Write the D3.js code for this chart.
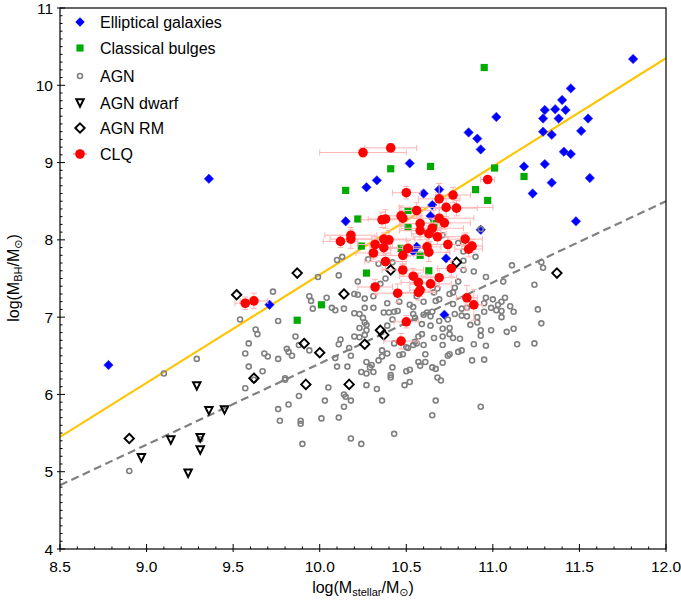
<!DOCTYPE html>
<html>
<head>
<meta charset="utf-8">
<script src="https://cdn.jsdelivr.net/npm/d3@7"></script>
<style>
  body { margin: 0; background: #ffffff; }
  svg text { font-family: "Liberation Sans", "DejaVu Sans", sans-serif; fill: #000; }
</style>
</head>
<body>
<svg id="chart" width="681" height="600"></svg>
<script>
// ---- data: log stellar mass vs log black-hole mass ----
const xTicks = [8.5, 9.0, 9.5, 10.0, 10.5, 11.0, 11.5, 12.0];
const yTicks = [4, 5, 6, 7, 8, 9, 10, 11];

const legendLabels = ["Elliptical galaxies", "Classical bulges", "AGN", "AGN dwarf", "AGN RM", "CLQ"];

// scaling relations: log MBH = a + b (log M* - 11)
const earlyFit = { a: 8.95, b: 1.40 };
const agnFit = { a: 7.45, b: 1.05 };

const ellipticals = [
  [9.36, 8.79], [8.78, 6.38], [9.71, 7.16], [10.15, 8.24], [10.27, 8.68], [10.33, 8.77],
  [10.52, 8.99], [10.60, 8.60], [10.65, 8.45], [10.64, 8.31], [10.69, 8.65], [10.56, 7.91],
  [10.54, 7.85], [10.73, 7.76], [10.72, 7.03], [10.86, 9.39], [10.91, 9.31], [10.93, 9.17],
  [10.93, 8.13], [11.02, 9.59], [11.81, 10.34], [11.45, 9.96], [11.40, 9.81], [11.30, 9.68],
  [11.36, 9.69], [11.42, 9.68], [11.29, 9.57], [11.38, 9.57], [11.55, 9.57], [11.29, 9.40],
  [11.34, 9.36], [11.51, 9.41], [11.41, 9.14], [11.45, 9.11], [11.18, 8.95], [11.30, 8.98],
  [11.34, 8.74], [11.56, 8.80], [11.23, 8.60], [11.48, 8.24]
];

const bulges = [
  [10.95, 10.23], [11.01, 8.93], [11.18, 8.82], [10.97, 8.51], [10.64, 8.95], [10.90, 8.65],
  [10.51, 8.38], [10.51, 8.16], [10.58, 7.80], [10.63, 7.60], [10.66, 8.21], [10.41, 8.92],
  [10.15, 8.64], [10.22, 8.27], [10.24, 7.92], [10.27, 7.57], [10.01, 7.16], [9.87, 6.96],
  [10.47, 7.89]
];

const agn = [
  [10.10, 7.74], [10.13, 7.78], [10.28, 7.75], [9.99, 7.52], [10.11, 7.54], [10.22, 7.46],
  [9.73, 7.33], [9.94, 7.27], [10.04, 7.25], [10.20, 7.30], [10.22, 7.29], [10.26, 7.24],
  [10.31, 7.27], [9.95, 7.21], [9.96, 7.11], [10.07, 7.12], [10.09, 7.09], [10.14, 7.11],
  [10.31, 7.12], [10.20, 7.05], [10.23, 7.04], [10.25, 6.99], [9.54, 6.97], [9.76, 6.95],
  [9.63, 6.84], [9.64, 6.78], [10.23, 6.86], [10.27, 6.90], [10.27, 6.83], [10.26, 6.77],
  [10.20, 6.75], [10.23, 6.74], [9.86, 6.75], [10.12, 6.71], [10.11, 6.65], [9.59, 6.66],
  [9.81, 6.59], [9.88, 6.64], [9.94, 6.57], [10.17, 6.60], [9.57, 6.53], [9.68, 6.53],
  [9.84, 6.50], [9.82, 6.55], [9.70, 6.49], [9.76, 6.46], [10.09, 6.47], [10.18, 6.50],
  [10.16, 6.36], [10.10, 6.36], [9.59, 6.36], [9.67, 6.30], [9.80, 6.19], [9.80, 6.21],
  [9.57, 6.08], [9.88, 5.98], [10.05, 6.09], [10.14, 6.00], [10.15, 5.97], [9.82, 5.87],
  [9.76, 5.81], [10.03, 5.92], [10.14, 5.84], [10.18, 5.92], [9.77, 5.66], [9.89, 5.66],
  [9.89, 5.62], [10.01, 5.69], [10.11, 5.70], [9.90, 5.36], [10.18, 5.43], [10.24, 5.36],
  [10.27, 6.42], [10.29, 6.35], [10.30, 6.38], [10.24, 6.29], [10.27, 6.27], [10.31, 6.29],
  [10.27, 6.12], [10.33, 6.07], [10.36, 5.92], [10.39, 6.53], [10.36, 6.49], [10.46, 6.51],
  [10.48, 6.52], [10.61, 6.52], [10.74, 6.50], [10.75, 6.52], [10.80, 6.55], [10.42, 6.35],
  [10.41, 6.25], [10.41, 6.22], [10.50, 6.30], [10.52, 6.32], [10.57, 6.42], [10.58, 6.37],
  [10.61, 6.42], [10.65, 6.35], [10.67, 6.33], [10.71, 6.41], [10.68, 6.22], [10.70, 6.18],
  [10.49, 6.12], [10.52, 6.16], [10.88, 6.44], [10.95, 6.45], [10.67, 5.92], [10.93, 5.84],
  [10.65, 5.73], [10.43, 5.49], [10.51, 6.60], [10.54, 6.64], [10.56, 6.66], [10.57, 6.75],
  [10.43, 6.66], [10.43, 7.07], [10.40, 7.06], [10.37, 7.06], [10.26, 7.12], [10.46, 7.20],
  [10.52, 7.16], [10.54, 7.13], [10.54, 7.04], [10.35, 7.43], [10.26, 6.93], [10.34, 6.44],
  [10.36, 6.57], [10.83, 7.61], [10.90, 7.78], [10.89, 7.59], [10.96, 7.52], [11.11, 7.67],
  [11.24, 7.42], [11.06, 7.46], [10.38, 7.50], [10.80, 7.46], [10.78, 7.38], [10.77, 7.32],
  [10.75, 7.30], [10.68, 7.37], [10.66, 7.32], [10.69, 7.23], [10.67, 7.21], [10.60, 7.20],
  [10.56, 7.27], [10.39, 7.18], [10.77, 7.17], [10.82, 7.11], [10.85, 7.12], [10.78, 7.04],
  [10.82, 7.02], [10.85, 7.01], [10.95, 7.18], [10.96, 7.25], [11.00, 7.23], [11.03, 7.16],
  [11.05, 7.20], [11.07, 7.25], [11.10, 7.14], [10.99, 7.12], [11.02, 7.09], [10.95, 7.07],
  [11.05, 7.08], [11.05, 7.00], [11.12, 7.07], [11.26, 7.10], [10.91, 7.00], [10.91, 6.93],
  [10.87, 6.90], [10.93, 6.83], [10.93, 6.76], [10.99, 6.83], [11.08, 6.81], [11.12, 6.85],
  [10.96, 6.63], [10.89, 6.65], [11.14, 6.65], [11.24, 6.66], [10.81, 6.72], [10.82, 6.57],
  [10.75, 6.86], [10.75, 6.78], [10.71, 6.85], [10.71, 6.75], [10.66, 6.73], [10.64, 6.89],
  [10.59, 6.78], [10.60, 6.64], [10.50, 6.61], [10.39, 6.89], [10.42, 6.97], [10.45, 7.08],
  [10.55, 6.99], [10.60, 7.03], [10.62, 7.06], [10.65, 7.07], [10.64, 7.01], [11.28, 7.71],
  [11.29, 7.64], [11.28, 6.92], [10.77, 6.73], [10.71, 6.64], [10.69, 6.95], [10.74, 6.97],
  [10.59, 6.91], [10.55, 6.68], [10.34, 7.69], [10.38, 7.70], [10.42, 7.71], [9.29, 6.46],
  [9.10, 6.27], [9.31, 5.42], [8.90, 5.01], [9.62, 6.19], [10.83, 7.73], [10.83, 7.85],
  [10.80, 7.96], [10.71, 8.06], [10.93, 8.14]
];

const agnDwarf = [
  [9.29, 6.11], [9.36, 5.79], [9.45, 5.80], [9.14, 5.41], [9.31, 5.44], [9.31, 5.28],
  [8.97, 5.18], [9.24, 4.98]
];

const agnRM = [
  [9.52, 7.29], [9.87, 7.57], [10.14, 7.30], [10.41, 7.61], [10.79, 7.71], [11.37, 7.57],
  [8.90, 5.43], [9.62, 6.21], [9.91, 6.66], [10.00, 6.54], [9.92, 6.13], [10.17, 6.13],
  [10.26, 6.65], [10.35, 6.83], [10.37, 6.77]
];

// CLQ: [log M*, log MBH]
const clq = [
  [9.57, 7.18], [9.62, 7.21], [10.25, 9.13], [10.41, 9.19], [10.50, 8.61], [10.97, 8.78],
  [10.36, 8.26], [10.38, 8.27], [10.47, 8.31], [10.56, 8.38], [10.12, 7.98], [10.18, 8.06],
  [10.18, 8.01], [10.32, 7.94], [10.37, 8.01], [10.40, 8.00], [10.37, 7.90], [10.31, 7.83],
  [10.38, 7.72], [10.48, 7.80], [10.51, 7.89], [10.48, 7.61], [10.54, 7.53], [10.57, 7.45],
  [10.32, 7.39], [10.45, 7.31], [10.57, 7.32], [10.58, 7.35], [10.69, 8.53], [10.77, 8.58],
  [10.73, 8.42], [10.79, 8.41], [10.69, 8.28], [10.72, 8.22], [10.58, 8.21], [10.65, 8.15],
  [10.63, 8.08], [10.58, 8.12], [10.68, 8.04], [10.84, 8.01], [10.62, 7.91], [10.63, 7.84],
  [10.74, 7.94], [10.88, 7.92], [10.86, 7.88], [10.76, 7.63], [10.69, 7.51], [10.64, 7.43],
  [10.85, 7.25], [10.89, 7.16], [10.50, 6.94], [10.47, 6.69], [10.48, 8.28]
];
// CLQ uncertainties (dex)
const clqXerr = [
  0.06, 0.08, 0.25, 0.15, 0.08, 0.04, 0.12, 0.10, 0.12, 0.10, 0.10, 0.15,
  0.12, 0.10, 0.18, 0.10, 0.08, 0.10, 0.12, 0.15, 0.10, 0.12, 0.08, 0.10,
  0.10, 0.12, 0.10, 0.06, 0.12, 0.10, 0.27, 0.12, 0.20, 0.15, 0.12, 0.18,
  0.10, 0.12, 0.14, 0.10, 0.08, 0.12, 0.10, 0.06, 0.08, 0.08, 0.10, 0.12,
  0.06, 0.05, 0.07, 0.10, 0.10
];
const clqYerr = [
  0.08, 0.10, 0.06, 0.05, 0.08, 0.04, 0.10, 0.12, 0.13, 0.10, 0.08, 0.10,
  0.12, 0.10, 0.08, 0.12, 0.10, 0.08, 0.10, 0.12, 0.10, 0.08, 0.10, 0.12,
  0.10, 0.12, 0.10, 0.08, 0.20, 0.10, 0.12, 0.10, 0.12, 0.08, 0.10, 0.12,
  0.10, 0.12, 0.10, 0.08, 0.10, 0.12, 0.10, 0.08, 0.10, 0.10, 0.12, 0.10,
  0.16, 0.20, 0.08, 0.10, 0.10
];

// ---- layout ----
const svg = d3.select("#chart");
const plot = { left: 60, right: 666, top: 8, bottom: 549 };

const x = d3.scaleLinear().domain([8.5, 12.0]).range([plot.left, plot.right]);
const y = d3.scaleLinear().domain([4, 11]).range([plot.bottom, plot.top]);

svg.append("defs").append("clipPath").attr("id", "plotClip")
  .append("rect")
  .attr("x", plot.left).attr("y", plot.top)
  .attr("width", plot.right - plot.left).attr("height", plot.bottom - plot.top);

const layer = svg.append("g").attr("clip-path", "url(#plotClip)");

// ---- scaling relations ----
const fitLine = f => d3.line()
  .x(d => x(d))
  .y(d => y(f.a + f.b * (d - 11)));
const span = x.domain();

layer.append("path")
  .attr("d", fitLine(agnFit)(span))
  .attr("fill", "none")
  .attr("stroke", "#808080")
  .attr("stroke-width", 2.2)
  .attr("stroke-dasharray", "8,4.5");

layer.append("path")
  .attr("d", fitLine(earlyFit)(span))
  .attr("fill", "none")
  .attr("stroke", "#ffc400")
  .attr("stroke-width", 2.2);

// ---- marker shapes ----
const diamond = r => `M0,${-r}L${r},0L0,${r}L${-r},0Z`;
const square = s => `M${-s},${-s}H${s}V${s}H${-s}Z`;
const triDown = r => `M${-r},${-r}L${r},${-r}L0,${r}Z`;

const at = d => `translate(${x(d[0])},${y(d[1])})`;

// elliptical galaxies
layer.append("g").selectAll("path").data(ellipticals).join("path")
  .attr("transform", at)
  .attr("d", diamond(4.7))
  .attr("fill", "#0000ff")
  .attr("stroke", "#2a2aff")
  .attr("stroke-width", 0.6);

// classical bulges
layer.append("g").selectAll("path").data(bulges).join("path")
  .attr("transform", at)
  .attr("d", square(3.6))
  .attr("fill", "#00aa00");

// AGN
layer.append("g").selectAll("circle").data(agn).join("circle")
  .attr("cx", d => x(d[0]))
  .attr("cy", d => y(d[1]))
  .attr("r", 2.5)
  .attr("fill", "none")
  .attr("stroke", "#808080")
  .attr("stroke-width", 1.6);

// AGN dwarf
layer.append("g").selectAll("path").data(agnDwarf).join("path")
  .attr("transform", at)
  .attr("d", triDown(3.7))
  .attr("fill", "none")
  .attr("stroke", "#000")
  .attr("stroke-width", 2)
  .attr("stroke-linejoin", "miter");

// AGN reverberation mapped
layer.append("g").selectAll("path").data(agnRM).join("path")
  .attr("transform", at)
  .attr("d", diamond(4.7))
  .attr("fill", "none")
  .attr("stroke", "#000")
  .attr("stroke-width", 1.9);

// CLQ error bars
const errColor = "#ffb4b4";
const cap = 3;
const eb = layer.append("g").attr("stroke", errColor).attr("stroke-width", 1).attr("fill", "none");
clq.forEach((d, i) => {
  const cx = x(d[0]), cy = y(d[1]);
  const x0 = x(d[0] - clqXerr[i]), x1 = x(d[0] + clqXerr[i]);
  const y0 = y(d[1] - clqYerr[i]), y1 = y(d[1] + clqYerr[i]);
  const p = d3.path();
  p.moveTo(x0, cy); p.lineTo(x1, cy);
  p.moveTo(x0, cy - cap); p.lineTo(x0, cy + cap);
  p.moveTo(x1, cy - cap); p.lineTo(x1, cy + cap);
  p.moveTo(cx, y0); p.lineTo(cx, y1);
  p.moveTo(cx - cap, y0); p.lineTo(cx + cap, y0);
  p.moveTo(cx - cap, y1); p.lineTo(cx + cap, y1);
  eb.append("path").attr("d", p.toString());
});

// CLQ points
layer.append("g").selectAll("circle").data(clq).join("circle")
  .attr("cx", d => x(d[0]))
  .attr("cy", d => y(d[1]))
  .attr("r", 4.8)
  .attr("fill", "#ff0000");

// ---- axes ----
const minorX = d3.range(85, 121).map(v => v / 10).filter(v => !xTicks.some(t => Math.abs(t - v) < 1e-6));
const minorY = d3.range(40, 111).map(v => v / 10).filter(v => !yTicks.some(t => Math.abs(t - v) < 1e-6));

// frame
svg.append("rect")
  .attr("x", plot.left).attr("y", plot.top)
  .attr("width", plot.right - plot.left).attr("height", plot.bottom - plot.top)
  .attr("fill", "none").attr("stroke", "#000").attr("stroke-width", 1.2);

const ticks = svg.append("g").attr("stroke", "#000").attr("stroke-width", 1);
xTicks.forEach(v => ticks.append("line")
  .attr("x1", x(v)).attr("x2", x(v)).attr("y1", plot.bottom + 3).attr("y2", plot.bottom - 5));
minorX.forEach(v => ticks.append("line")
  .attr("x1", x(v)).attr("x2", x(v)).attr("y1", plot.bottom).attr("y2", plot.bottom - 2.5));
yTicks.forEach(v => ticks.append("line")
  .attr("y1", y(v)).attr("y2", y(v)).attr("x1", plot.left - 3).attr("x2", plot.left + 5));
minorY.forEach(v => ticks.append("line")
  .attr("y1", y(v)).attr("y2", y(v)).attr("x1", plot.left).attr("x2", plot.left + 2.5));

svg.append("g").selectAll("text").data(xTicks).join("text")
  .attr("x", d => x(d))
  .attr("y", plot.bottom + 23)
  .attr("text-anchor", "middle")
  .attr("font-size", 15.5)
  .text(d => d3.format(".1f")(d));

svg.append("g").selectAll("text").data(yTicks).join("text")
  .attr("x", plot.left - 7)
  .attr("y", d => y(d) + 5.5)
  .attr("text-anchor", "end")
  .attr("font-size", 15.5)
  .text(d => d);

// axis titles
const xTitle = svg.append("text")
  .attr("x", 363).attr("y", 593)
  .attr("text-anchor", "middle")
  .attr("font-size", 16);
xTitle.append("tspan").text("log(M");
xTitle.append("tspan").attr("font-size", 11).attr("dy", 3).text("stellar");
xTitle.append("tspan").attr("dy", -3).text("/M");
xTitle.append("tspan").attr("font-size", 11).attr("dy", 3).text("⊙");
xTitle.append("tspan").attr("dy", -3).text(")");

const yTitle = svg.append("text")
  .attr("transform", "translate(19,278) rotate(-90)")
  .attr("text-anchor", "middle")
  .attr("font-size", 16);
yTitle.append("tspan").text("log(M");
yTitle.append("tspan").attr("font-size", 11).attr("dy", 3).text("BH");
yTitle.append("tspan").attr("dy", -3).text("/M");
yTitle.append("tspan").attr("font-size", 11).attr("dy", 3).text("⊙");
yTitle.append("tspan").attr("dy", -3).text(")");

// ---- legend ----
const legend = svg.append("g");
const rowY = [22, 48, 76, 103, 128, 154];
const mx = 80;
legendLabels.forEach((lab, i) => {
  legend.append("text")
    .attr("x", 100).attr("y", rowY[i] + 5.5)
    .attr("font-size", 16)
    .text(lab);
});
legend.append("path").attr("transform", `translate(${mx},${rowY[0]})`)
  .attr("d", diamond(4.7)).attr("fill", "#0000ff");
legend.append("path").attr("transform", `translate(${mx},${rowY[1]})`)
  .attr("d", square(3.6)).attr("fill", "#00aa00");
legend.append("circle").attr("cx", mx).attr("cy", rowY[2]).attr("r", 2.5)
  .attr("fill", "none").attr("stroke", "#808080").attr("stroke-width", 1.6);
legend.append("path").attr("transform", `translate(${mx},${rowY[3]})`)
  .attr("d", triDown(3.7)).attr("fill", "none").attr("stroke", "#000").attr("stroke-width", 2);
legend.append("path").attr("transform", `translate(${mx},${rowY[4]})`)
  .attr("d", diamond(4.7)).attr("fill", "none").attr("stroke", "#000").attr("stroke-width", 1.9);
const lp = d3.path();
lp.moveTo(mx - 7, rowY[5]); lp.lineTo(mx + 7, rowY[5]);
lp.moveTo(mx, rowY[5] - 5); lp.lineTo(mx, rowY[5] + 5);
legend.append("path").attr("d", lp.toString()).attr("stroke", errColor).attr("stroke-width", 2);
legend.append("circle").attr("cx", mx).attr("cy", rowY[5]).attr("r", 4.8).attr("fill", "#ff0000");
</script>
</body>
</html>
